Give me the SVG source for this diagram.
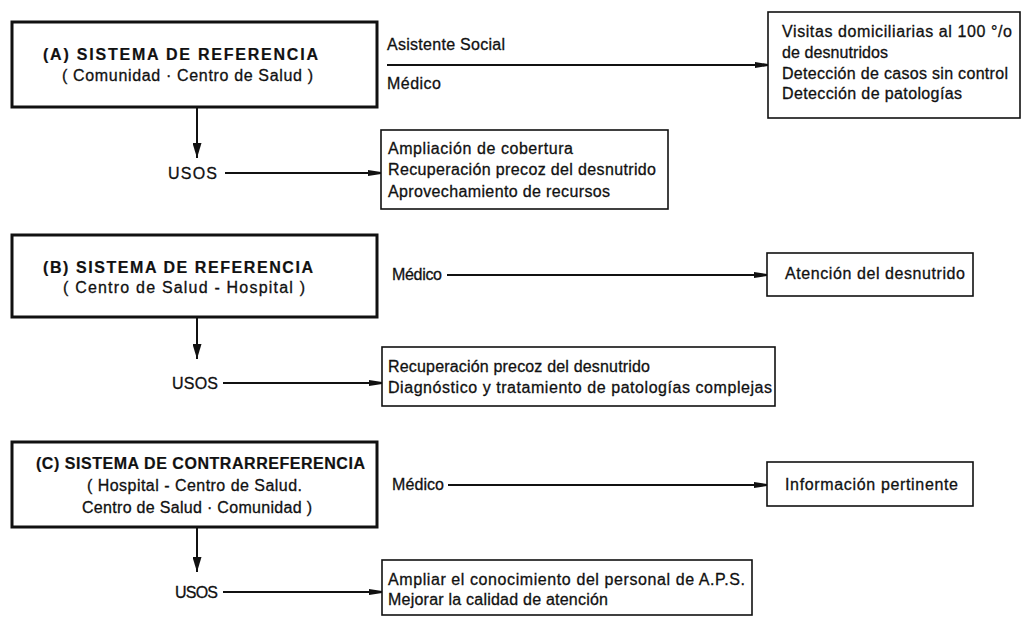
<svg xmlns="http://www.w3.org/2000/svg" width="1025" height="618" viewBox="0 0 1025 618">
<style>
text{font-family:"Liberation Sans",Arial,sans-serif;fill:#111;stroke:#111}
.r{font-size:16px;stroke-width:0.3}
.b{font-size:16px;font-weight:bold;stroke-width:0.2}
.main{fill:#fff;stroke:#111;stroke-width:3}
.box{fill:#fff;stroke:#111;stroke-width:1.6}
.c{stroke:#111;stroke-width:2;fill:none}
</style>
<defs>
<marker id="dn" viewBox="0 0 9 15" refX="4.5" refY="15" markerWidth="9" markerHeight="15" markerUnits="userSpaceOnUse" orient="0">
<path d="M0,0 L9,0 L4.5,15 z" fill="#111"/>
</marker>
<marker id="rt" viewBox="0 0 13 7" refX="13" refY="3.5" markerWidth="13" markerHeight="7" markerUnits="userSpaceOnUse" orient="0">
<path d="M0,0.5 L13,2.5 L13,4.5 L0,6.5 z" fill="#111"/>
</marker>
</defs>

<g id="connectors">
<line class="c" x1="197" y1="108" x2="197" y2="158" marker-end="url(#dn)"/>
<line class="c" x1="225" y1="173" x2="381" y2="173" marker-end="url(#rt)"/>
<line class="c" x1="387" y1="65" x2="768" y2="65" marker-end="url(#rt)"/>
<line class="c" x1="197" y1="318" x2="197" y2="359" marker-end="url(#dn)"/>
<line class="c" x1="223" y1="383" x2="382" y2="383" marker-end="url(#rt)"/>
<line class="c" x1="447" y1="275" x2="767" y2="275" marker-end="url(#rt)"/>
<line class="c" x1="197" y1="528" x2="197" y2="572" marker-end="url(#dn)"/>
<line class="c" x1="223" y1="592" x2="382" y2="592" marker-end="url(#rt)"/>
<line class="c" x1="448" y1="485" x2="767" y2="485" marker-end="url(#rt)"/>
</g>

<g id="nodeA">
<rect class="main" x="12" y="22" width="365" height="85"/>
<text class="b" x="43" y="60" textLength="275" lengthAdjust="spacing">(A) SISTEMA DE REFERENCIA</text>
<text class="r" x="62" y="81" textLength="251" lengthAdjust="spacing">( Comunidad · Centro de Salud )</text>
</g>
<g id="labelA">
<text class="r" x="387" y="50" textLength="118" lengthAdjust="spacing">Asistente Social</text>
<text class="r" x="387" y="89" textLength="54" lengthAdjust="spacing">Médico</text>
</g>
<g id="resultA">
<rect class="box" x="768" y="12" width="252" height="106"/>
<text class="r" x="782" y="37" textLength="230" lengthAdjust="spacing">Visitas domiciliarias al 100 °/o</text>
<text class="r" x="782" y="58" textLength="106" lengthAdjust="spacing">de desnutridos</text>
<text class="r" x="782" y="79" textLength="226" lengthAdjust="spacing">Detección de casos sin control</text>
<text class="r" x="782" y="99" textLength="180" lengthAdjust="spacing">Detección de patologías</text>
</g>
<g id="usosA">
<text class="r" x="168" y="179" textLength="49" lengthAdjust="spacing">USOS</text>
</g>
<g id="usesA">
<rect class="box" x="381" y="130" width="287" height="79"/>
<text class="r" x="388" y="154" textLength="185" lengthAdjust="spacing">Ampliación de cobertura</text>
<text class="r" x="388" y="175" textLength="268" lengthAdjust="spacing">Recuperación precoz del desnutrido</text>
<text class="r" x="388" y="197" textLength="222" lengthAdjust="spacing">Aprovechamiento de recursos</text>
</g>

<g id="nodeB">
<rect class="main" x="12" y="235" width="365" height="82"/>
<text class="b" x="43" y="273" textLength="270" lengthAdjust="spacing">(B) SISTEMA DE REFERENCIA</text>
<text class="r" x="63" y="293" textLength="242" lengthAdjust="spacing">( Centro de Salud - Hospital )</text>
</g>
<g id="labelB">
<text class="r" x="392" y="280" textLength="50" lengthAdjust="spacing">Médico</text>
</g>
<g id="resultB">
<rect class="box" x="767" y="253" width="206" height="43"/>
<text class="r" x="785" y="279" textLength="180" lengthAdjust="spacing">Atención del desnutrido</text>
</g>
<g id="usosB">
<text class="r" x="172" y="389" textLength="46" lengthAdjust="spacing">USOS</text>
</g>
<g id="usesB">
<rect class="box" x="382" y="347" width="393" height="59"/>
<text class="r" x="388" y="372" textLength="262" lengthAdjust="spacing">Recuperación precoz del desnutrido</text>
<text class="r" x="388" y="393" textLength="384" lengthAdjust="spacing">Diagnóstico y tratamiento de patologías complejas</text>
</g>

<g id="nodeC">
<rect class="main" x="12" y="442" width="365" height="85"/>
<text class="b" x="36" y="469" textLength="329" lengthAdjust="spacing">(C) SISTEMA DE CONTRARREFERENCIA</text>
<text class="r" x="87" y="491" textLength="215" lengthAdjust="spacing">( Hospital - Centro de Salud.</text>
<text class="r" x="82" y="513" textLength="230" lengthAdjust="spacing">Centro de Salud · Comunidad )</text>
</g>
<g id="labelC">
<text class="r" x="392" y="490" textLength="52" lengthAdjust="spacing">Médico</text>
</g>
<g id="resultC">
<rect class="box" x="767" y="462" width="206" height="44"/>
<text class="r" x="785" y="490" textLength="173" lengthAdjust="spacing">Información pertinente</text>
</g>
<g id="usosC">
<text class="r" x="175" y="598" textLength="43" lengthAdjust="spacing">USOS</text>
</g>
<g id="usesC">
<rect class="box" x="382" y="560" width="370" height="55"/>
<text class="r" x="388" y="585" textLength="357" lengthAdjust="spacing">Ampliar el conocimiento del personal de A.P.S.</text>
<text class="r" x="388" y="605" textLength="220" lengthAdjust="spacing">Mejorar la calidad de atención</text>
</g>
</svg>
